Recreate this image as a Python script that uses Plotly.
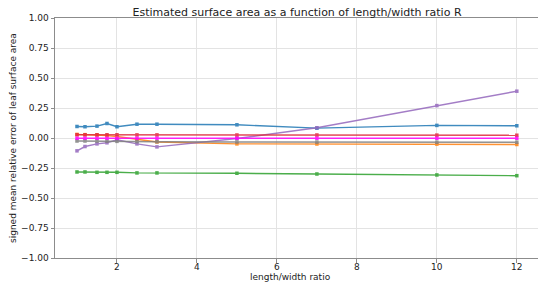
import plotly.graph_objects as go

ratios = [1, 1.2, 1.5, 1.75, 2, 2.5, 3, 5, 7, 10, 12]

series_blue = [0.096, 0.094, 0.099, 0.121, 0.094, 0.115, 0.115, 0.110, 0.082, 0.105, 0.102]
series_orange = [0.030, 0.028, 0.025, 0.020, 0.012, -0.013, -0.033, -0.049, -0.050, -0.051, -0.054]
series_green = [-0.283, -0.283, -0.286, -0.286, -0.286, -0.291, -0.291, -0.294, -0.300, -0.308, -0.314]
series_red = [0.027, 0.027, 0.027, 0.027, 0.027, 0.026, 0.026, 0.025, 0.025, 0.024, 0.023]
series_purple = [-0.107, -0.071, -0.049, -0.040, -0.015, -0.049, -0.074, -0.004, 0.085, 0.270, 0.390]
series_gray = [-0.025, -0.025, -0.026, -0.027, -0.028, -0.030, -0.031, -0.033, -0.034, -0.035, -0.035]
series_magenta = [-0.002, -0.002, -0.002, -0.002, -0.002, -0.002, -0.002, -0.002, -0.002, -0.002, -0.002]

y_ticks = [-1.0, -0.75, -0.5, -0.25, 0.0, 0.25, 0.5, 0.75, 1.0]
y_ticklabels = ["\u22121.00", "\u22120.75", "\u22120.50", "\u22120.25", "0.00", "0.25", "0.50", "0.75", "1.00"]
x_ticks = [2, 4, 6, 8, 10, 12]

series = [
    (series_blue, "#1f77b4"),
    (series_orange, "#ff7f0e"),
    (series_green, "#2ca02c"),
    (series_purple, "#9467bd"),
    (series_gray, "#7f7f7f"),
    (series_red, "#e0283c"),
    (series_magenta, "#ff00ff"),
]

fig = go.Figure()
for vals, col in series:
    fig.add_trace(go.Scatter(
        x=ratios, y=vals, mode="lines+markers",
        line=dict(color=col, width=1.4),
        marker=dict(color=col, size=3.5, symbol="square"),
        opacity=0.85, showlegend=False,
    ))

axis_common = dict(
    showline=True, linecolor="#8c8c8c", linewidth=1, mirror=True,
    showgrid=True, gridcolor="#e3e3e3", gridwidth=1,
    ticks="outside", ticklen=3.5, tickcolor="#8c8c8c", tickwidth=1,
    zeroline=False, automargin=False,
    tickfont=dict(family="DejaVu Sans", size=9, color="#222"),
)

W, H = 538, 287
fig.update_layout(
    width=W, height=H,
    margin=dict(l=55, r=0, t=18, b=29),
    paper_bgcolor="white", plot_bgcolor="white",
    title=dict(text="Estimated surface area as a function of length/width ratio R",
               x=297/W, xanchor="center", y=1 - 12/H, yanchor="middle",
               font=dict(family="DejaVu Sans", size=11, color="#222")),
    xaxis=dict(range=[0.45, 12.53], tickvals=x_ticks, ticklabelstandoff=-3, **axis_common),
    yaxis=dict(range=[-1.0, 1.0], tickvals=y_ticks, ticktext=y_ticklabels, **axis_common),
    annotations=[
        dict(text="length/width ratio", xref="paper", yref="paper",
             x=(290 - 55) / (W - 55), y=-(277 - 258) / (258 - 18),
             xanchor="center", yanchor="middle", showarrow=False,
             font=dict(family="DejaVu Sans", size=9, color="#222")),
        dict(text="signed mean relative error of leaf surface area", xref="paper", yref="paper",
             x=-(55 - 13) / (W - 55), y=0.5, textangle=-90,
             xanchor="center", yanchor="middle", showarrow=False,
             font=dict(family="DejaVu Sans", size=9, color="#222")),
    ],
)

fig.write_html("out.html", config={"displayModeBar": False},
               post_script="document.body.style.margin='0px';document.body.style.padding='0px';")
